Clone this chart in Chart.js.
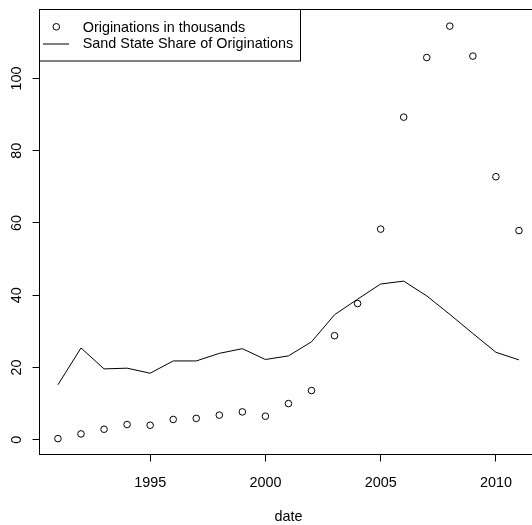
<!DOCTYPE html>
<html>
<head>
<meta charset="utf-8">
<script src="https://cdn.jsdelivr.net/npm/chart.js@4/dist/chart.umd.min.js"></script>
<style>
  html, body { margin: 0; padding: 0; background: #fff; overflow: hidden; }
  canvas { display: block; }
</style>
</head>
<body>
<canvas id="c" width="545" height="525"></canvas>
<script>
// Annual series, 1991-2011
const years = [1991, 1992, 1993, 1994, 1995, 1996, 1997, 1998, 1999, 2000,
               2001, 2002, 2003, 2004, 2005, 2006, 2007, 2008, 2009, 2010, 2011];
const originations = [0.3, 1.6, 2.9, 4.2, 4.0, 5.6, 5.9, 6.8, 7.7, 6.5,
                      10.0, 13.6, 28.8, 37.7, 58.3, 89.3, 105.8, 114.5, 106.2, 72.8, 57.9];
const sandShare = [15.2, 25.4, 19.6, 19.8, 18.4, 21.8, 21.8, 23.9, 25.2, 22.2,
                   23.2, 27.1, 34.6, 38.9, 43.1, 43.9, 39.8, 34.7, 29.4, 24.2, 22.1];
const xTicks = [1995, 2000, 2005, 2010];
const yTicks = [0, 20, 40, 60, 80, 100];
const seriesNames = ['Originations in thousands', 'Sand State Share of Originations'];
const xTitle = 'date';

const FONT = '"Liberation Sans", Arial, Helvetica, sans-serif';
const FSIZE = 14.4;
const POINT_R = 3.3;

const toPoints = vals => years.map((yr, i) => ({ x: yr, y: vals[i] }));

// Box around the plot region, rotated y labels and the legend
const decorations = {
  id: 'decorations',
  afterDraw(chart) {
    const { ctx, chartArea: a, scales: { y } } = chart;
    ctx.save();
    ctx.strokeStyle = '#000';
    ctx.lineWidth = 1;
    ctx.strokeRect(a.left, a.top, a.right - a.left, a.bottom - a.top);

    ctx.fillStyle = '#000';
    ctx.font = FSIZE + 'px ' + FONT;
    yTicks.forEach(v => {
      const py = y.getPixelForValue(v);
      ctx.save();
      ctx.translate(21, py);
      ctx.rotate(-Math.PI / 2);
      ctx.textAlign = 'center';
      ctx.textBaseline = 'alphabetic';
      ctx.fillText(String(v), 0, 0);
      ctx.restore();
    });

    // legend
    const lx = a.left, ly = a.top;
    const textX = lx + 43.2;
    const maxW = Math.max(...seriesNames.map(s => ctx.measureText(s).width));
    const boxW = Math.round(textX + maxW + 7 - lx);
    const boxH = 51.5;
    ctx.fillStyle = '#fff';
    ctx.fillRect(lx, ly, boxW, boxH);
    ctx.strokeRect(lx, ly, boxW, boxH);
    ctx.fillStyle = '#000';
    ctx.textAlign = 'left';
    ctx.textBaseline = 'alphabetic';
    ctx.fillText(seriesNames[0], textX, ly + 22);
    ctx.fillText(seriesNames[1], textX, ly + 38.8);
    ctx.beginPath();
    ctx.arc(lx + 16.8, ly + 17.3, POINT_R, 0, Math.PI * 2);
    ctx.stroke();
    ctx.beginPath();
    ctx.moveTo(lx + 3.5, ly + 34.5);
    ctx.lineTo(lx + 29.5, ly + 34.5);
    ctx.stroke();
    ctx.restore();
  }
};

new Chart(document.getElementById('c'), {
  type: 'line',
  data: {
    datasets: [
      {
        label: seriesNames[0],
        data: toPoints(originations),
        showLine: false,
        pointRadius: POINT_R,
        pointBorderWidth: 1,
        pointBorderColor: '#000',
        pointBackgroundColor: 'rgba(0,0,0,0)',
        borderColor: '#000'
      },
      {
        label: seriesNames[1],
        data: toPoints(sandShare),
        borderColor: '#000',
        borderWidth: 1,
        pointRadius: 0,
        tension: 0,
        fill: false
      }
    ]
  },
  options: {
    responsive: false,
    animation: false,
    devicePixelRatio: 1,
    layout: { padding: { left: 0, top: 9.5, right: 7.6, bottom: 0 } },
    plugins: { legend: { display: false }, tooltip: { enabled: false } },
    scales: {
      x: {
        type: 'linear',
        min: 1990.2,
        max: 2011.8,
        afterBuildTicks: s => { s.ticks = xTicks.map(v => ({ value: v })); },
        afterFit: s => { s.height = 70.5; },
        border: { display: false },
        grid: { drawOnChartArea: false, drawTicks: true, tickLength: 7, color: '#000', lineWidth: 1 },
        ticks: {
          autoSkip: false, maxRotation: 0, minRotation: 0, padding: 13,
          color: '#000', font: { family: FONT, size: FSIZE, lineHeight: 1.2 },
          callback: v => String(v)
        },
        title: {
          display: true, text: xTitle, color: '#000',
          font: { family: FONT, size: FSIZE, lineHeight: 1.2 },
          padding: { top: 0, bottom: -1 }
        }
      },
      y: {
        type: 'linear',
        min: -4.1,
        max: 119.1,
        afterBuildTicks: s => { s.ticks = yTicks.map(v => ({ value: v })); },
        afterFit: s => { s.width = 39.5; },
        border: { display: false },
        grid: { drawOnChartArea: false, drawTicks: true, tickLength: 7, color: '#000', lineWidth: 1 },
        ticks: { display: false }
      }
    }
  },
  plugins: [decorations]
});
</script>
</body>
</html>
